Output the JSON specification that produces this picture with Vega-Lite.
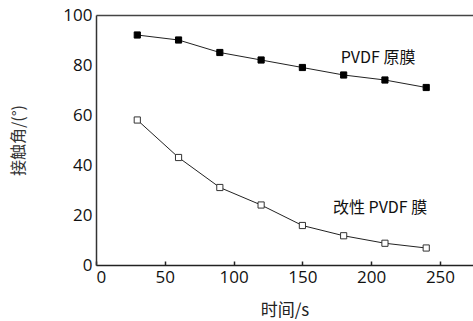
{
  "$schema": "https://vega.github.io/schema/vega-lite/v6.json",
  "width": 377,
  "height": 250,
  "autosize": {"type": "none"},
  "padding": {"left": 96, "top": 15, "right": 0, "bottom": 56},
  "background": "white",
  "config": {
    "view": {"stroke": null},
    "font": "Open Sans"
  },
  "datasets": {
    "pts": [
      {"t": 30, "a": 92, "s": "PVDF 原膜"},
      {"t": 60, "a": 90, "s": "PVDF 原膜"},
      {"t": 90, "a": 85, "s": "PVDF 原膜"},
      {"t": 120, "a": 82, "s": "PVDF 原膜"},
      {"t": 150, "a": 79, "s": "PVDF 原膜"},
      {"t": 180, "a": 76, "s": "PVDF 原膜"},
      {"t": 210, "a": 74, "s": "PVDF 原膜"},
      {"t": 240, "a": 71, "s": "PVDF 原膜"},
      {"t": 30, "a": 58, "s": "改性 PVDF 膜"},
      {"t": 60, "a": 43, "s": "改性 PVDF 膜"},
      {"t": 90, "a": 31, "s": "改性 PVDF 膜"},
      {"t": 120, "a": 24, "s": "改性 PVDF 膜"},
      {"t": 150, "a": 15.8, "s": "改性 PVDF 膜"},
      {"t": 180, "a": 11.7, "s": "改性 PVDF 膜"},
      {"t": 210, "a": 8.7, "s": "改性 PVDF 膜"},
      {"t": 240, "a": 6.8, "s": "改性 PVDF 膜"}
    ],
    "labels": [
      {"t": 205, "a": 82.8, "label": "PVDF 原膜"},
      {"t": 206.5, "a": 22.8, "label": "改性 PVDF 膜"}
    ]
  },
  "resolve": {"axis": {"x": "independent"}},
  "layer": [
    {
      "data": {"name": "pts"},
      "mark": {"type": "line", "color": "#222", "strokeWidth": 1},
      "encoding": {
        "x": {
          "field": "t", "type": "quantitative",
          "scale": {"domain": [0, 274], "nice": false},
          "axis": {
            "title": "时间/s", "values": [0, 50, 100, 150, 200, 250],
            "grid": false, "domain": true, "domainColor": "#222", "domainWidth": 1.5,
            "tickSize": -4, "tickColor": "#222", "tickWidth": 1.5,
            "labelFontSize": 17, "labelColor": "#111", "labelPadding": 8,
            "titleFont": "Noto Sans CJK SC", "titleFontSize": 17, "titleFontWeight": "normal", "titleColor": "#222", "titlePadding": 17
          }
        },
        "y": {
          "field": "a", "type": "quantitative",
          "scale": {"domain": [0, 100], "nice": false},
          "axis": {
            "title": "接触角/(°)", "values": [0, 20, 40, 60, 80, 100],
            "grid": false, "domain": true, "domainColor": "#333", "domainWidth": 1.5, "ticks": false,
            "labelFontSize": 17, "labelColor": "#111", "labelPadding": 4,
            "titleFont": "Noto Sans CJK SC", "titleFontSize": 16, "titleFontWeight": "normal", "titleColor": "#333", "titlePadding": 36
          }
        },
        "detail": {"field": "s"}
      }
    },
    {
      "data": {"name": "pts"},
      "mark": {"type": "square", "size": 38, "opacity": 1, "strokeWidth": 1},
      "encoding": {
        "x": {"field": "t", "type": "quantitative", "axis": {"orient": "top", "labels": false, "ticks": false, "title": null, "grid": false, "domainColor": "#444", "domainWidth": 1.5}},
        "y": {"field": "a", "type": "quantitative"},
        "fill": {"field": "s", "type": "nominal", "scale": {"domain": ["PVDF 原膜", "改性 PVDF 膜"], "range": ["#000", "#fff"]}, "legend": null},
        "stroke": {"field": "s", "type": "nominal", "scale": {"domain": ["PVDF 原膜", "改性 PVDF 膜"], "range": ["#000", "#333"]}, "legend": null}
      }
    },
    {
      "data": {"name": "labels"},
      "mark": {"type": "text", "font": "Noto Sans CJK SC", "fontSize": 16, "color": "#111", "align": "center", "baseline": "middle"},
      "encoding": {
        "x": {"field": "t", "type": "quantitative", "axis": null},
        "y": {"field": "a", "type": "quantitative"},
        "text": {"field": "label"}
      }
    }
  ]
}
